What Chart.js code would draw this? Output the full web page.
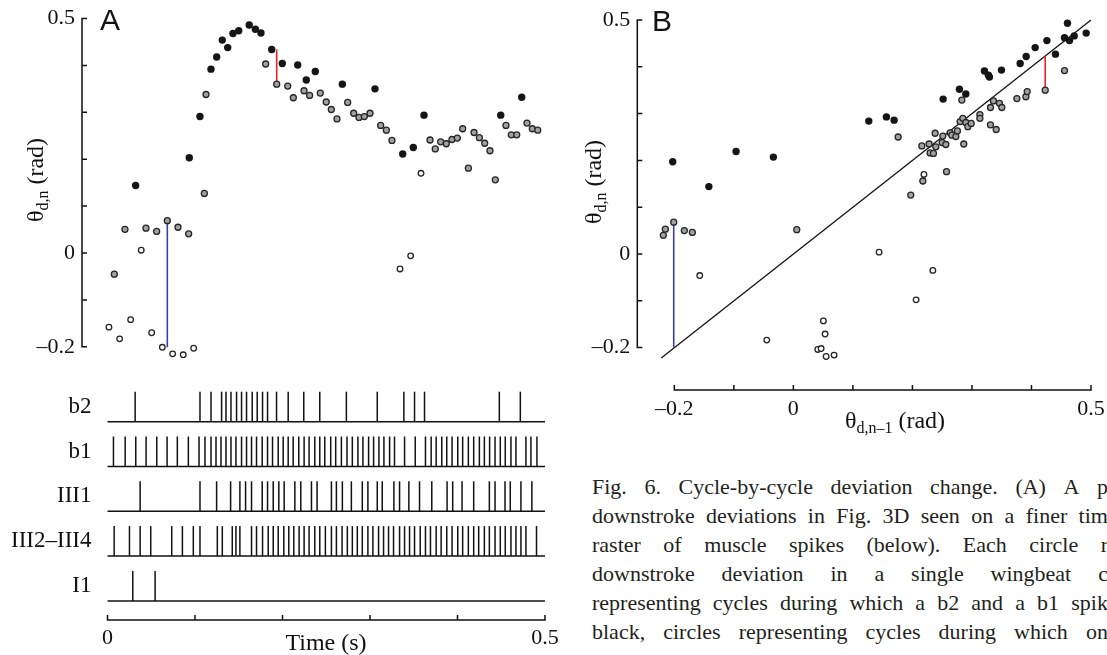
<!DOCTYPE html>
<html>
<head>
<meta charset="utf-8">
<script src="https://cdn.jsdelivr.net/npm/chart.js@4.4.1/dist/chart.umd.min.js"></script>
<style>
  html, body { margin: 0; padding: 0; background: #fff; }
  body { position: relative; width: 1107px; height: 655px; overflow: hidden; }
  canvas { position: absolute; }
  .panel { position: absolute; font-family: "Liberation Sans", Arial, sans-serif; font-size: 30px; line-height: 30px; color: #111; }
  .cap { position: absolute; left: 592px; height: 29px; line-height: 29px; font-family: "Liberation Serif", "Times New Roman", serif;
         font-size: 22px; color: #231f20; display: flex; justify-content: space-between; white-space: nowrap; }
  .cap span.last { flex: none; width: 0; min-width: 0; overflow: visible; }
</style>
</head>
<body>
<canvas id="scatterA" width="560" height="380" style="left:0;top:0"></canvas>
<canvas id="rasterA" width="560" height="285" style="left:0;top:370px"></canvas>
<canvas id="scatterB" width="547" height="440" style="left:560px;top:0"></canvas>
<div class="panel" style="left:100px;top:5px">A</div>
<div class="panel" style="left:652px;top:6px">B</div>
<div id="caption"></div>
<script>
// ---------- panel A: deviation of each wingbeat against time ----------
const aBlackT = [0.0322, 0.0935, 0.1057, 0.1183, 0.1248, 0.1312, 0.1374, 0.1434, 0.15, 0.162, 0.169, 0.1754,
  0.1877, 0.1998, 0.2174, 0.2272, 0.2375, 0.2684, 0.3057, 0.3374, 0.3495, 0.3617, 0.4494, 0.4734];
const aBlackV = [0.144, 0.203, 0.291, 0.392, 0.418, 0.454, 0.438, 0.468, 0.474, 0.486, 0.477, 0.469,
  0.434, 0.404, 0.401, 0.369, 0.387, 0.360, 0.350, 0.211, 0.225, 0.294, 0.294, 0.332];

const aGrayT = [0.0078, 0.02, 0.044, 0.0562, 0.0684, 0.0806, 0.0928, 0.1107, 0.1126, 0.1808, 0.1934, 0.206,
  0.2124, 0.2246, 0.231, 0.2432, 0.25, 0.2558, 0.2623, 0.2745, 0.2814, 0.2874, 0.2935, 0.30, 0.3122, 0.3187,
  0.3251, 0.3686, 0.3746, 0.3808, 0.3872, 0.3937, 0.3998, 0.4059, 0.4124, 0.4189, 0.4250, 0.4311, 0.4371,
  0.4432, 0.4554, 0.4615, 0.4677, 0.4794, 0.4855, 0.4917];
const aGrayV = [-0.045, 0.0505, 0.053, 0.046, 0.069, 0.055, 0.041, 0.127, 0.338, 0.403, 0.360, 0.356,
  0.331, 0.346, 0.336, 0.341, 0.322, 0.306, 0.286, 0.321, 0.298, 0.289, 0.291, 0.298, 0.272, 0.262,
  0.240, 0.241, 0.222, 0.237, 0.233, 0.242, 0.245, 0.265, 0.181, 0.257, 0.246, 0.234, 0.218,
  0.156, 0.272, 0.252, 0.252, 0.277, 0.265, 0.262];

const aWhiteT = [0.0017, 0.0139, 0.0265, 0.0386, 0.0505, 0.0627, 0.0745, 0.0866, 0.0985, 0.3343, 0.3465, 0.3583];
const aWhiteV = [-0.158, -0.183, -0.142, 0.006, -0.170, -0.201, -0.215, -0.217, -0.203, -0.034, -0.006, 0.170];

// marked cycle-to-cycle changes
const aBlueT = [0.0684, 0.0684], aBlueV = [-0.201, 0.069];
const aRedT = [0.1934, 0.1934], aRedV = [0.434, 0.36];

// ---------- spike raster (s) ----------
const rowNames = ['b2', 'b1', 'III1', 'III2\u2013III4', 'I1'];
const b2Spikes = [0.0316, 0.1057, 0.1183, 0.1304, 0.1354, 0.1411, 0.1475, 0.1532, 0.1589, 0.1654, 0.1711, 0.1772,
  0.1829, 0.1932, 0.2065, 0.2243, 0.2426, 0.273, 0.3083, 0.3387, 0.3509, 0.3623, 0.4478, 0.4718];
const b1Spikes = [0.0068, 0.0202, 0.0323, 0.0441, 0.0563, 0.0681, 0.0798, 0.0924, 0.1046, 0.1114, 0.1183, 0.1240,
  0.1297, 0.1354, 0.1411, 0.1468, 0.1532, 0.1589, 0.1646, 0.1703, 0.1768, 0.1829, 0.1886, 0.1951, 0.2008, 0.2065,
  0.2122, 0.2186, 0.2247, 0.2304, 0.2369, 0.2426, 0.2483, 0.2551, 0.2608, 0.2673, 0.2737, 0.2798, 0.2862, 0.2919,
  0.2984, 0.3041, 0.3102, 0.3159, 0.3224, 0.3280, 0.3395, 0.3517, 0.3634, 0.3699, 0.3756, 0.382, 0.3877, 0.3938,
  0.4003, 0.4059, 0.4124, 0.4185, 0.425, 0.4307, 0.4367, 0.4429, 0.4489, 0.4546, 0.4611, 0.4668, 0.4782, 0.4839, 0.4908];
const III1Spikes = [0.0373, 0.1057, 0.1247, 0.1407, 0.1513, 0.1578, 0.1646, 0.1768, 0.1829, 0.1894, 0.1958, 0.2019,
  0.2141, 0.2209, 0.2331, 0.2395, 0.2559, 0.2616, 0.2684, 0.2787, 0.2912, 0.2976, 0.3083, 0.314, 0.3273, 0.3338,
  0.3444, 0.3566, 0.3706, 0.3881, 0.3945, 0.4052, 0.4185, 0.4364, 0.4429, 0.4543, 0.4603, 0.4725, 0.485];
const III24Spikes = [0.0076, 0.0251, 0.0373, 0.0494, 0.0734, 0.0856, 0.0981, 0.1057, 0.1255, 0.1312, 0.1426, 0.1468,
  0.1513, 0.1646, 0.1703, 0.1772, 0.1837, 0.1894, 0.1951, 0.2015, 0.2072, 0.2129, 0.219, 0.2247, 0.2304, 0.2369,
  0.2426, 0.249, 0.2559, 0.2616, 0.2681, 0.2741, 0.2798, 0.2855, 0.2912, 0.2976, 0.3033, 0.3098, 0.3155, 0.3212,
  0.3269, 0.3338, 0.3395, 0.3452, 0.3509, 0.3574, 0.3634, 0.3691, 0.3756, 0.3813, 0.3877, 0.3938, 0.4003, 0.4059,
  0.4124, 0.4185, 0.4242, 0.4307, 0.4364, 0.4429, 0.4489, 0.4546, 0.4611, 0.4668, 0.4725, 0.4782, 0.4903];
const I1Spikes = [0.0289, 0.0544];
const spikeRows = [b2Spikes, b1Spikes, III1Spikes, III24Spikes, I1Spikes];

// ---------- panel B: deviation n against deviation n-1 ----------
const bBlackX = [-0.2027, -0.142, -0.0963, -0.0336, 0.1267, 0.1563, 0.1692, 0.2516, 0.279, 0.2897, 0.321, 0.3277,
  0.3294, 0.3496, 0.381, 0.3911, 0.4062, 0.4259, 0.4403, 0.4605, 0.4555, 0.4639, 0.4718, 0.4919];
const bBlackY = [0.197, 0.144, 0.219, 0.207, 0.284, 0.293, 0.286, 0.331, 0.352, 0.342, 0.391, 0.382,
  0.378, 0.393, 0.407, 0.422, 0.441, 0.456, 0.427, 0.493, 0.462, 0.456, 0.466, 0.472];

const bGrayX = [-0.2185, -0.2151, -0.201, -0.1832, -0.1697, 0.0057, 0.176, 0.1972, 0.2158, 0.2175, 0.228, 0.2297,
  0.2353, 0.2381, 0.2393, 0.2499, 0.2511, 0.2561, 0.2573, 0.2634, 0.2662, 0.2729, 0.2756, 0.2801, 0.283, 0.2847,
  0.2863, 0.2897, 0.2931, 0.2987, 0.3133, 0.3133, 0.3311, 0.3311, 0.3361, 0.3407, 0.3462, 0.3502, 0.3755, 0.3906,
  0.3928, 0.4231, 0.4555];
const bGrayY = [0.04, 0.053, 0.068, 0.05, 0.046, 0.052, 0.25, 0.126, 0.231, 0.156, 0.235, 0.216,
  0.215, 0.258, 0.229, 0.238, 0.252, 0.234, 0.176, 0.259, 0.254, 0.251, 0.263, 0.283, 0.329, 0.29,
  0.235, 0.281, 0.272, 0.279, 0.298, 0.29, 0.313, 0.276, 0.327, 0.266, 0.322, 0.313, 0.332, 0.336,
  0.347, 0.35, 0.392];

const bWhiteX = [-0.1573, -0.0447, 0.041, 0.0466, 0.0504, 0.0533, 0.055, 0.0684, 0.144, 0.2062, 0.2193, 0.2343];
const bWhiteY = [-0.046, -0.184, -0.204, -0.202, -0.143, -0.171, -0.219, -0.216, 0.004, -0.098, 0.17, -0.035];

const diagX = [-0.222, 0.5], diagY = [-0.222, 0.5];
const bBlueX = [-0.201, -0.201], bBlueY = [-0.2, 0.068];
const bRedX = [0.4231, 0.4231], bRedY = [0.423, 0.35];

// ---------- ticks ----------
const thetaTicks = [-0.2, -0.1, 0, 0.1, 0.2, 0.3, 0.4, 0.5];
const thetaTickText = ['\u20130.2', '', '0', '', '', '', '', '0.5'];
const timeTicks = [0, 0.1, 0.2, 0.3, 0.4, 0.5];
const timeTickText = ['0', '', '', '', '', '0.5'];

const captionLines = [
  ['Fig.', '6.', 'Cycle-by-cycle', 'deviation', 'change.', '(A)', 'A', 'p'],
  ['downstroke', 'deviations', 'in', 'Fig.', '3D', 'seen', 'on', 'a', 'finer', 'tim'],
  ['raster', 'of', 'muscle', 'spikes', '(below).', 'Each', 'circle', 'r'],
  ['downstroke', 'deviation', 'in', 'a', 'single', 'wingbeat', 'c'],
  ['representing', 'cycles', 'during', 'which', 'a', 'b2', 'and', 'a', 'b1', 'spik'],
  ['black,', 'circles', 'representing', 'cycles', 'during', 'which', 'on']
];

// ---------- helpers ----------
Chart.defaults.font.family = '"Liberation Serif", "Times New Roman", serif';
Chart.defaults.color = '#111';
const ink = '#111';

const pts = (xs, ys) => xs.map((x, i) => ({ x: x, y: ys[i] }));

const dots = (data, fill, r, bw) => ({
  data: data, pointRadius: r, pointBackgroundColor: fill, pointBorderColor: '#262626',
  pointBorderWidth: bw, pointHoverRadius: r, showLine: false, clip: false
});
const segment = (data, color, w) => ({
  data: data, showLine: true, borderColor: color, borderWidth: w, pointRadius: 0, clip: false
});

// scale with fixed tick values; the box size is forced so the plot area lands where it should
function tickScale(vals, text, size, fontSize, extra) {
  return Object.assign({
    type: 'linear',
    grid: { display: false, drawTicks: false },
    border: { display: false },
    afterBuildTicks: s => { s.ticks = vals.map(v => ({ value: v })); },
    afterFit: s => {
      if (s.isHorizontal()) s.height = size; else s.width = size;
      s.paddingTop = 0; s.paddingBottom = 0; s.paddingLeft = 0; s.paddingRight = 0;
    },
    ticks: { autoSkip: false, maxRotation: 0, padding: 7, font: { size: fontSize, lineHeight: 1 },
      callback: (v, i) => text[i] }
  }, extra);
}

function drawLabel(ctx, t) {
  const big = '24px "Liberation Serif"', small = '16px "Liberation Serif"';
  ctx.save();
  ctx.fillStyle = ink;
  ctx.font = big;
  const w1 = ctx.measureText(t.main).width;
  const w3 = t.tail ? ctx.measureText(t.tail).width : 0;
  ctx.font = small;
  const w2 = t.sub ? ctx.measureText(t.sub).width : 0;
  ctx.translate(t.x, t.y);
  if (t.vertical) ctx.rotate(-Math.PI / 2);
  ctx.textAlign = 'left';
  ctx.textBaseline = 'alphabetic';
  let cx = -(w1 + w2 + w3) / 2;
  ctx.font = big; ctx.fillText(t.main, cx, 8); cx += w1;
  if (t.sub) { ctx.font = small; ctx.fillText(t.sub, cx, 13); cx += w2; }
  if (t.tail) { ctx.font = big; ctx.fillText(t.tail, cx, 8); }
  ctx.restore();
}

// axis lines that only span the tick range, ticks pointing inward
const frame = {
  id: 'frame',
  beforeDatasetsDraw(chart, args, opts) {
    const ctx = chart.ctx, area = chart.chartArea;
    ctx.save();
    ctx.strokeStyle = ink;
    ctx.lineWidth = 1.5;
    (opts.axes || []).forEach(ax => {
      const sc = chart.scales[ax.id];
      const a = sc.getPixelForValue(ax.ticks[0]);
      const b = sc.getPixelForValue(ax.ticks[ax.ticks.length - 1]);
      ctx.beginPath();
      if (sc.isHorizontal()) {
        const y = area.bottom;
        ctx.moveTo(a - 0.75, y); ctx.lineTo(b + 0.75, y);
        ax.ticks.forEach(v => { const p = sc.getPixelForValue(v); ctx.moveTo(p, y); ctx.lineTo(p, y - 5); });
      } else {
        const x = area.left;
        ctx.moveTo(x, a + 0.75); ctx.lineTo(x, b - 0.75);
        ax.ticks.forEach(v => { const p = sc.getPixelForValue(v); ctx.moveTo(x, p); ctx.lineTo(x + 5, p); });
      }
      ctx.stroke();
    });
    ctx.restore();
  },
  afterDraw(chart, args, opts) {
    (opts.titles || []).forEach(t => drawLabel(chart.ctx, t));
  }
};

const baseOptions = (padding, scales, frameOpts) => ({
  responsive: false, animation: false, devicePixelRatio: 1, events: [],
  layout: { padding: padding, autoPadding: false },
  scales: scales,
  plugins: { legend: { display: false }, tooltip: { enabled: false }, frame: frameOpts }
});

// ---------- panel A scatter ----------
new Chart(document.getElementById('scatterA'), {
  type: 'scatter',
  plugins: [frame],
  data: {
    datasets: [
      dots(pts(aBlackT, aBlackV), '#151515', 3.7, 0),
      dots(pts(aGrayT, aGrayV), '#a2a2a2', 3.0, 1.3),
      dots(pts(aWhiteT, aWhiteV), '#ffffff', 2.8, 1.3),
      segment(pts(aBlueT, aBlueV), '#3b3f9e', 1.6),
      segment(pts(aRedT, aRedV), '#e3242b', 1.6)
    ]
  },
  options: baseOptions({ left: 0, top: 18.5, right: 15, bottom: 14.4 }, {
    x: { type: 'linear', display: false, min: -0.0291, max: 0.5 },
    y: tickScale(thetaTicks, thetaTickText, 82, 22, { min: -0.24, max: 0.5 })
  }, {
    axes: [{ id: 'y', ticks: thetaTicks }],
    titles: [{ main: '\u03b8', sub: 'd,n', tail: ' (rad)', x: 35, y: 180, vertical: true }]
  })
});

// ---------- panel A raster ----------
const rasterSets = [];
spikeRows.forEach((row, r) => {
  rasterSets.push({
    data: row.map(t => ({ x: t, y: r + 0.665 })),
    showLine: false, pointStyle: 'line', pointRotation: 90, pointRadius: 15, pointHoverRadius: 15,
    pointBorderColor: ink, pointBorderWidth: 1.5, clip: false
  });
  rasterSets.push(segment([{ x: timeTicks[0], y: r + 1 }, { x: timeTicks[timeTicks.length - 1], y: r + 1 }], ink, 1.5));
});

const rowScale = tickScale(rowNames.map((n, i) => i + 0.665), rowNames, 107.5, 23, { min: 0, max: 5.426, reverse: true });
rowScale.ticks.padding = 16;

new Chart(document.getElementById('rasterA'), {
  type: 'scatter',
  plugins: [frame],
  data: { datasets: rasterSets },
  options: baseOptions({ left: 0, top: 6.9, right: 15, bottom: 0 }, {
    x: tickScale(timeTicks, timeTickText, 35, 22, { min: 0, max: 0.5, position: 'bottom' }),
    y: rowScale
  }, {
    axes: [{ id: 'x', ticks: timeTicks }],
    titles: [{ main: 'Time (s)', x: 326, y: 272 }]
  })
});

// ---------- panel B scatter ----------
const bx = tickScale(thetaTicks, thetaTickText, 50, 22, { min: -0.2622, max: 0.5, position: 'bottom' });
bx.ticks.padding = 8;

new Chart(document.getElementById('scatterB'), {
  type: 'scatter',
  plugins: [frame],
  data: {
    datasets: [
      dots(pts(bBlackX, bBlackY), '#151515', 3.7, 0),
      dots(pts(bGrayX, bGrayY), '#a2a2a2', 3.0, 1.3),
      dots(pts(bWhiteX, bWhiteY), '#ffffff', 2.8, 1.3),
      segment(pts(bBlueX, bBlueY), '#3b3f9e', 1.6),
      segment(pts(bRedX, bRedY), '#e3242b', 1.6),
      segment(pts(diagX, diagY), ink, 1.3)
    ]
  },
  options: baseOptions({ left: 0, top: 20, right: 16, bottom: 0 }, {
    x: bx,
    y: tickScale(thetaTicks, thetaTickText, 77.3, 22, { min: -0.2906, max: 0.5 })
  }, {
    axes: [{ id: 'y', ticks: thetaTicks }, { id: 'x', ticks: thetaTicks }],
    titles: [
      { main: '\u03b8', sub: 'd,n', tail: ' (rad)', x: 33, y: 182, vertical: true },
      { main: '\u03b8', sub: 'd,n\u20131', tail: ' (rad)', x: 335, y: 420 }
    ]
  })
});

// ---------- caption (justified, clipped by the page edge) ----------
const capBox = document.getElementById('caption');
captionLines.forEach((words, i) => {
  const line = document.createElement('div');
  line.className = 'cap';
  line.style.top = (486 - 14.5 + 29 * i) + 'px';
  words.forEach(w => {
    const s = document.createElement('span');
    s.textContent = w;
    line.appendChild(s);
  });
  capBox.appendChild(line);
  const last = line.lastChild;
  const fragW = last.getBoundingClientRect().width;
  last.className = 'last';
  line.style.width = (1107 - 592 - fragW + 1) + 'px';
});
</script>
</body>
</html>
